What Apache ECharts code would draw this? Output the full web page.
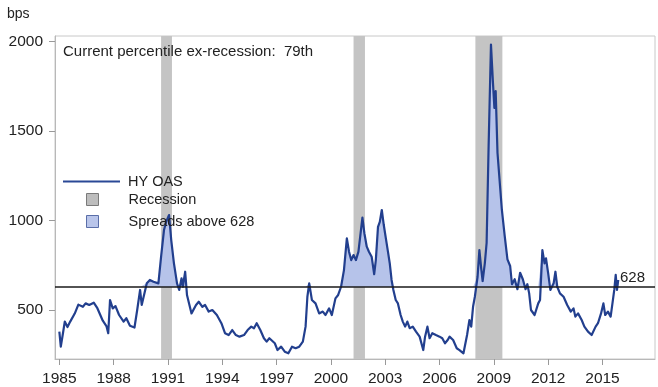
<!DOCTYPE html>
<html><head><meta charset="utf-8">
<script src="https://cdn.jsdelivr.net/npm/echarts@6/dist/echarts.min.js"></script>
<style>html,body{margin:0;padding:0;background:#fff}#c{width:658px;height:387px}</style>
</head><body><div id="c"></div>
<script>
const years = [1985.00,1985.08,1985.20,1985.30,1985.45,1985.60,1985.85,1986.05,1986.14,1986.30,1986.45,1986.65,1986.90,1987.10,1987.40,1987.60,1987.70,1987.80,1987.95,1988.10,1988.30,1988.55,1988.70,1988.90,1989.15,1989.30,1989.46,1989.55,1989.83,1990.00,1990.20,1990.47,1990.62,1990.78,1990.90,1991.06,1991.18,1991.33,1991.50,1991.62,1991.75,1991.82,1991.95,1992.05,1992.30,1992.55,1992.70,1992.90,1993.05,1993.25,1993.45,1993.70,1993.95,1994.15,1994.35,1994.55,1994.75,1994.95,1995.20,1995.40,1995.60,1995.75,1995.90,1996.10,1996.30,1996.45,1996.60,1996.90,1997.05,1997.25,1997.45,1997.65,1997.85,1998.05,1998.25,1998.45,1998.60,1998.70,1998.80,1998.95,1999.15,1999.35,1999.55,1999.70,1999.90,2000.05,2000.25,2000.40,2000.56,2000.72,2000.88,2001.00,2001.12,2001.25,2001.38,2001.52,2001.62,2001.74,2001.85,2001.98,2002.10,2002.25,2002.39,2002.48,2002.60,2002.70,2002.81,2002.92,2003.05,2003.15,2003.25,2003.35,2003.45,2003.58,2003.70,2003.85,2003.97,2004.10,2004.22,2004.35,2004.52,2004.70,2004.90,2005.10,2005.20,2005.33,2005.45,2005.60,2005.80,2006.00,2006.15,2006.30,2006.45,2006.55,2006.75,2006.95,2007.10,2007.32,2007.40,2007.52,2007.65,2007.75,2007.85,2007.95,2008.10,2008.20,2008.30,2008.38,2008.50,2008.60,2008.71,2008.84,2008.95,2009.03,2009.10,2009.20,2009.44,2009.60,2009.75,2009.90,2010.00,2010.15,2010.30,2010.45,2010.60,2010.75,2010.85,2010.95,2011.05,2011.25,2011.45,2011.55,2011.68,2011.80,2011.88,2012.00,2012.12,2012.30,2012.40,2012.50,2012.65,2012.85,2013.05,2013.25,2013.40,2013.50,2013.65,2013.85,2014.00,2014.20,2014.40,2014.48,2014.62,2014.75,2014.92,2015.05,2015.15,2015.30,2015.45,2015.55,2015.65,2015.73,2015.80,2015.87];
const hyOas = [379,295,370,435,405,435,480,530,537,518,537,528,541,510,440,410,370,556,509,522,472,435,454,412,402,500,612,528,649,668,658,649,798,947,993,1031,891,761,649,612,677,630,714,584,481,528,546,518,528,491,500,472,426,370,360,388,360,351,360,388,407,398,426,388,342,323,342,314,276,295,267,258,295,286,295,323,407,574,649,556,537,481,491,472,509,472,565,584,630,723,900,826,779,807,779,826,817,1016,928,854,826,798,700,779,965,993,1059,975,891,826,761,668,612,556,537,472,435,407,435,398,407,379,351,276,351,407,342,370,360,351,342,314,332,351,332,286,276,258,249,360,444,407,518,574,686,835,733,662,761,876,1416,1984,1770,1630,1724,1379,1062,913,783,746,644,672,616,708,672,616,644,593,500,472,537,556,835,761,789,705,612,649,714,630,593,574,528,491,509,463,481,444,407,379,360,351,407,426,481,537,472,491,463,537,612,696,612,668];
const threshold = 628;
const recessionStart = [1990.62, 2001.25, 2007.98];
const recessionEnd = [1991.22, 2001.88, 2009.47];
const xTickLabels = [1985,1988,1991,1994,1997,2000,2003,2006,2009,2012,2015];
const yTickLabels = [500,1000,1500,2000];

const FONT = 'Liberation Sans, Arial, sans-serif';
const lineData = years.map((y,i)=>[y, hyOas[i]]);
const aboveData = years.map((y,i)=>[y, Math.max(hyOas[i], threshold)]);
const recessionAreas = recessionStart.map((s,i)=>[{xAxis:s},{xAxis:recessionEnd[i]}]);

const chart = echarts.init(document.getElementById('c'), null, {renderer:'canvas'});
chart.setOption({
  animation:false,
  backgroundColor:'#fff',
  title:[
    {text:'bps', left:7, top:7, padding:0, textStyle:{fontFamily:FONT,fontSize:14,fontWeight:'normal',color:'#222'}},
    {text:'Current percentile ex-recession:  79th', left:63, top:44, padding:0, textStyle:{fontFamily:FONT,fontSize:15,fontWeight:'normal',color:'#222'}}
  ],
  legend:[
    {data:[{name:'HY OAS', icon:'rect', itemStyle:{color:'#2a4896', borderWidth:0}}], left:63, top:174, padding:0, itemWidth:57, itemHeight:2,
     textStyle:{fontFamily:FONT,fontSize:14.5,color:'#222',padding:[0,0,0,3]}},
    {orient:'vertical', left:86, top:192, padding:0, itemWidth:12, itemHeight:12, itemGap:7,
     data:[
       {name:'Recession', icon:'rect', itemStyle:{color:'#bdbdbd', borderColor:'#7a7a7a', borderWidth:1}},
       {name:'Spreads above 628', icon:'rect', itemStyle:{color:'#b9c5ea', borderColor:'#5a6ea8', borderWidth:1}}
     ],
     textStyle:{fontFamily:FONT,fontSize:14.5,color:'#222',padding:[0,0,0,25]}}
  ],
  grid:{left:55, right:3, top:36, bottom:28, show:true, borderColor:'#c8c8c8', borderWidth:1},
  xAxis:{type:'value', min:1984.76, max:2017.9,
    axisLine:{show:true, lineStyle:{color:'#b8b8b8'}},
    axisTick:{show:true, length:6, customValues:xTickLabels, lineStyle:{color:'#999'}},
    axisLabel:{customValues:xTickLabels, margin:12, fontFamily:FONT, fontSize:15.5, color:'#222', formatter:v=>String(v)},
    splitLine:{show:false}},
  yAxis:{type:'value', min:226, max:2032,
    axisLine:{show:true, lineStyle:{color:'#b8b8b8'}},
    axisTick:{show:true, length:6, customValues:yTickLabels, lineStyle:{color:'#999'}},
    axisLabel:{customValues:yTickLabels, margin:12, fontFamily:FONT, fontSize:15.5, color:'#222', formatter:v=>String(v)},
    splitLine:{show:false}},
  series:[
    {name:'Recession', type:'line', data:[], z:1, itemStyle:{color:'#bdbdbd'},
     markArea:{silent:true, itemStyle:{color:'#c4c4c4'}, data:recessionAreas}},
    {name:'Spreads above 628', type:'line', data:aboveData, symbol:'none', z:2,
     itemStyle:{color:'#b9c5ea'}, lineStyle:{width:0, opacity:0},
     areaStyle:{color:'#b6c3ea', opacity:1, origin:threshold}},
    {name:'HY OAS', type:'line', data:lineData, symbol:'none', z:3,
     itemStyle:{color:'#223f8e'}, lineStyle:{color:'#223f8e', width:2.2, join:'round'},
     markLine:{silent:true, symbol:'none', data:[{yAxis:threshold}],
       lineStyle:{color:'#1a1a1a', width:1.6, type:'solid'},
       label:{show:true, position:'insideEndTop', distance:[10,2], formatter:'628',
         fontFamily:FONT, fontSize:15, color:'#222'}}}
  ]
});
</script></body></html>
